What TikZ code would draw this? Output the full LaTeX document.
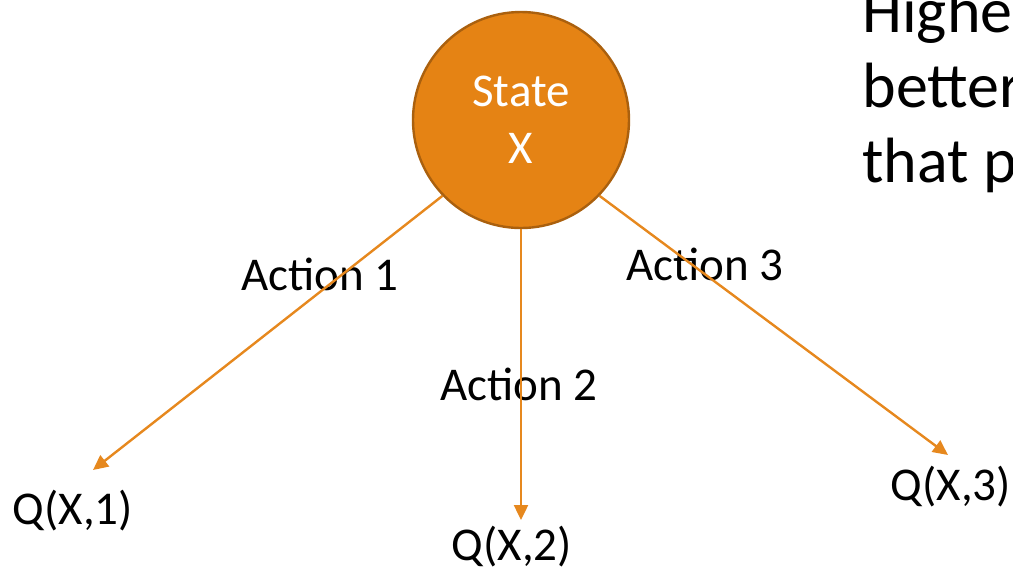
\documentclass[tikz,border=0pt]{standalone}
\usepackage{fontspec}
\setmainfont{Carlito}
\usetikzlibrary{arrows.meta}
\definecolor{stateorange}{RGB}{229,131,20}
\definecolor{stateborder}{RGB}{170,96,14}
\definecolor{actionorange}{RGB}{230,136,30}

\begin{document}
\begin{tikzpicture}[
    x=0.5pt, y=-0.5pt,
    state node/.style={circle,fill=stateorange,draw=stateborder,line width=1.2pt,minimum size=108pt,inner sep=0pt,text=white,align=center,font=\fontsize{23.5}{28.5}\selectfont},
    value node/.style={anchor=base,inner sep=0pt,font=\fontsize{23.5}{28}\selectfont},
    action/.style={draw=actionorange,line width=1.2pt,-{Triangle[length=7.5pt,width=7pt]}}]

  \useasboundingbox (0,0) rectangle (1013,570);
  \clip (0,0) rectangle (1013,570);

  \node[state node] (StateX) at (521,120) {State\\X};

  \node[value node] (Q1) at (73,524) {Q(X,1)};
  \node[value node] (Q2) at (512,560) {Q(X,2)};
  \node[value node] (Q3) at (951,500) {Q(X,3)};

  \node[value node] (Act1) at (320,290) {Action 1};
  \node[value node] (Act2) at (519,400) {Action 2};
  \node[value node] (Act3) at (705,280) {Action 3};

  \coordinate (Tip1) at (93,470);
  \coordinate (Tip2) at (521,520);
  \coordinate (Tip3) at (948,455);

  \path (StateX.224) edge[action] (Tip1)
        (StateX.south) edge[action] (Tip2)
        (StateX.316) edge[action] (Tip3);

  % last line sits on the base anchor
  \node[anchor=base west,inner sep=0pt,align=left,font=\fontsize{32}{37.5}\selectfont] (Note) at (862,182) {Highe\\better\\that p};
\end{tikzpicture}
\end{document}
